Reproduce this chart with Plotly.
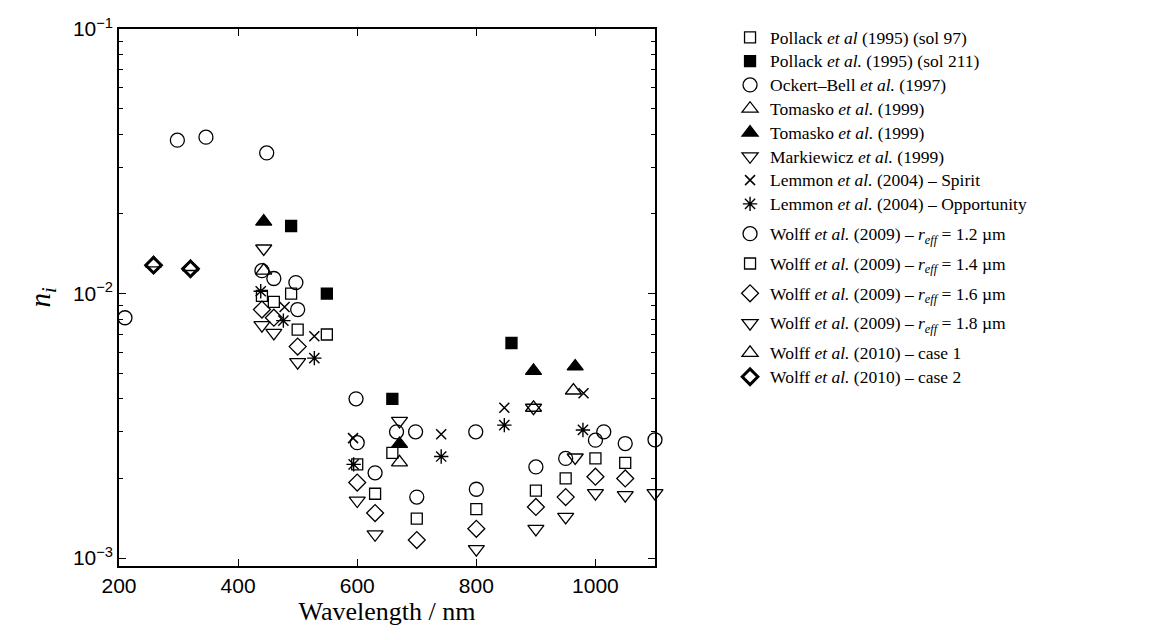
import plotly.graph_objects as go

# Imaginary refractive index of Martian dust versus wavelength (nm)
pollack97_nm = [489, 549, 659]
pollack97_n = [0.0100, 0.0070, 0.0025]

pollack211_nm = [489, 549, 659, 859]
pollack211_n = [0.0180, 0.0100, 0.0040, 0.0065]

ockert_nm = [210, 298, 346, 448, 497, 598, 666, 698, 799, 1014, 1100]
ockert_n = [0.0081, 0.038, 0.039, 0.034, 0.011, 0.0040, 0.0030, 0.0030, 0.0030, 0.0030, 0.0028]

tomasko_open_nm = [443, 671, 896, 963]
tomasko_open_n = [0.0122, 0.0023, 0.0037, 0.0043]

tomasko_fill_nm = [443, 671, 896, 966]
tomasko_fill_n = [0.0187, 0.0027, 0.0051, 0.0053]

markiewicz_nm = [443, 671, 896, 966, 1100]
markiewicz_n = [0.0148, 0.0033, 0.0037, 0.0024, 0.00176]

spirit_nm = [478, 528, 593, 741, 847, 980]
spirit_n = [0.0089, 0.0069, 0.00284, 0.00294, 0.0037, 0.0042]

opportunity_nm = [438, 476, 528, 594, 741, 847, 979]
opportunity_n = [0.0102, 0.0079, 0.0057, 0.00226, 0.00242, 0.00318, 0.00305]

wolff09_nm = [440, 460, 500, 600, 630, 700, 800, 900, 950, 1000, 1050]
wolff09_r12 = [0.0122, 0.0114, 0.0087, 0.00273, 0.0021, 0.0017, 0.00182, 0.00221, 0.00238, 0.00279, 0.00271]
wolff09_r14 = [0.0098, 0.0093, 0.0073, 0.00226, 0.00175, 0.00141, 0.00153, 0.0018, 0.0020, 0.00238, 0.00229]
wolff09_r16 = [0.0087, 0.0081, 0.0063, 0.00193, 0.00148, 0.00117, 0.00129, 0.00156, 0.0017, 0.00203, 0.0020]
wolff09_r18 = [0.0076, 0.0071, 0.0055, 0.00165, 0.00123, 0.00093, 0.00108, 0.00129, 0.00143, 0.00176, 0.00173]

wolff10_nm = [258, 320]
wolff10_case1 = [0.0130, 0.0126]
wolff10_case2 = [0.0128, 0.0124]

x_ticks = [200, 400, 600, 800, 1000]
y_ticks = [1e-3, 1e-2, 1e-1]
y_ticktext = ["10<sup>\u22123</sup>", "10<sup>\u22122</sup>", "10<sup>\u22121</sup>"]

EA = "<i>et al.</i>"
REFF = "<i>r</i><sub><i>eff</i></sub>"

# (label, x, y, symbol, size, line width, legend group)
series = [
    ("Pollack <i>et al</i> (1995) (sol 97)", pollack97_nm, pollack97_n, "square-open", 11, 1.3, "early"),
    (f"Pollack {EA} (1995) (sol 211)", pollack211_nm, pollack211_n, "square", 11, 1.3, "early"),
    (f"Ockert\u2013Bell {EA} (1997)", ockert_nm, ockert_n, "circle-open", 14, 1.3, "early"),
    (f"Tomasko {EA} (1999)", tomasko_open_nm, tomasko_open_n, "triangle-up-open", 14, 1.3, "early"),
    (f"Tomasko {EA} (1999)", tomasko_fill_nm, tomasko_fill_n, "triangle-up", 14, 1.3, "early"),
    (f"Markiewicz {EA} (1999)", markiewicz_nm, markiewicz_n, "triangle-down-open", 14, 1.3, "early"),
    (f"Lemmon {EA} (2004) \u2013 Spirit", spirit_nm, spirit_n, "x-thin-open", 10, 1.5, "early"),
    (f"Lemmon {EA} (2004) \u2013 Opportunity", opportunity_nm, opportunity_n, "asterisk-open", 12, 1.4, "early"),
    (f"Wolff {EA} (2009) \u2013 {REFF} = 1.2 \u00b5m", wolff09_nm, wolff09_r12, "circle-open", 14, 1.3, "w12"),
    (f"Wolff {EA} (2009) \u2013 {REFF} = 1.4 \u00b5m", wolff09_nm, wolff09_r14, "square-open", 11, 1.3, "w14"),
    (f"Wolff {EA} (2009) \u2013 {REFF} = 1.6 \u00b5m", wolff09_nm, wolff09_r16, "diamond-open", 13, 1.3, "w16"),
    (f"Wolff {EA} (2009) \u2013 {REFF} = 1.8 \u00b5m", wolff09_nm, wolff09_r18, "triangle-down-open", 14, 1.3, "w18"),
    (f"Wolff {EA} (2010) \u2013 case 1", wolff10_nm, wolff10_case1, "triangle-up-open", 14, 1.3, "w10"),
    (f"Wolff {EA} (2010) \u2013 case 2", wolff10_nm, wolff10_case2, "diamond-open", 12, 3.0, "w10"),
]

fig = go.Figure()
for name, xs, ys, sym, size, lw, grp in series:
    fig.add_trace(go.Scatter(
        x=xs, y=ys, mode="markers", legendgroup=grp, cliponaxis=False,
        name=f'<span style="font-size:17.5px">{name}</span>',
        marker=dict(symbol=sym, size=size, color="black",
                    line=dict(color="black", width=lw)),
    ))

axis_common = dict(
    showline=True, linecolor="black", linewidth=1.5, mirror="ticks",
    ticks="inside", tickcolor="black", tickwidth=1, ticklen=7,
    showgrid=False, zeroline=False,
    tickfont=dict(family="Liberation Sans", size=21, color="black"),
)

fig.update_xaxes(
    range=[200, 1100], tickvals=x_ticks,
    title=dict(text="Wavelength / nm", standoff=6,
               font=dict(family="Liberation Serif", size=26, color="black")),
    **axis_common,
)

minor_vals = [m * 10 ** e for e in (-3, -2) for m in range(2, 10)]
fig.update_yaxes(
    type="log", range=[-3.03, -1.0], tickvals=y_ticks, ticktext=y_ticktext,
    minor=dict(tickvals=minor_vals, ticks="inside", ticklen=4, tickcolor="black"),
    title=dict(text="<i>n</i><sub><i>i</i></sub>", standoff=14,
               font=dict(family="Liberation Serif", size=29, color="black")),
    **axis_common,
)

fig.update_layout(
    width=1156, height=640,
    margin=dict(l=119, r=501, t=29, b=74),
    paper_bgcolor="white", plot_bgcolor="white",
    legend=dict(
        x=1.14, y=1.016, xanchor="left", yanchor="top",
        font=dict(family="Liberation Serif", size=16, color="black"),
        bgcolor="rgba(0,0,0,0)", itemsizing="trace",
        tracegroupgap=6, maxheight=620,
    ),
)

fig.write_html("out.html")
